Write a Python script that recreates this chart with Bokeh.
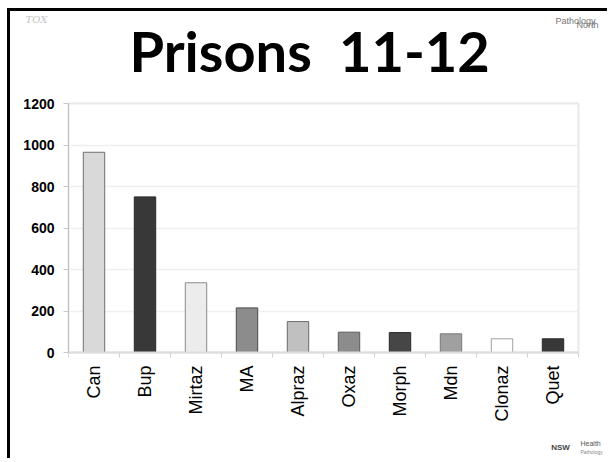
import math
from bokeh.plotting import figure
from bokeh.models import Range1d, FixedTicker, Label, ColumnDataSource
from bokeh.embed import file_html
from bokeh.resources import INLINE

# ---- data ----
categories = ["Can", "Bup", "Mirtaz", "MA", "Alpraz", "Oxaz", "Morph", "Mdn", "Clonaz", "Quet"]
counts = [965, 750, 336, 215, 149, 98, 96, 90, 66, 66]
fill_colors = ["#d9d9d9", "#383838", "#ececec", "#8c8c8c", "#c0c0c0",
               "#8c8c8c", "#464646", "#a0a0a0", "#ffffff", "#383838"]
line_colors = ["#6e6e6e", "#2a2a2a", "#8a8a8a", "#4a4a4a", "#6a6a6a",
               "#5a5a5a", "#2a2a2a", "#7a7a7a", "#a0a0a0", "#2a2a2a"]
y_ticks = [0, 200, 400, 600, 800, 1000, 1200]
title_text = "Prisons\u00a0\u00a011-12"

n = len(categories)
positions = [i + 0.5 for i in range(n)]
boundaries = list(range(n + 1))

source = ColumnDataSource(dict(x=positions, top=counts, fill=fill_colors,
                               line=line_colors, cat=categories))

p = figure(width=600, height=450, x_range=Range1d(0, n), y_range=Range1d(0, 1200),
           output_backend="svg", toolbar_location=None,
           min_border_left=58, min_border_right=32, min_border_top=92, min_border_bottom=109)
p.styles = {"margin-left": "7px", "margin-top": "8px",
            "border-left": "3px solid black", "border-top": "3px solid black"}
p.title.visible = False

p.vbar(x="x", top="top", width=0.42, source=source, fill_color="fill",
       line_color="line", line_width=1)

# x axis
xa = p.xaxis[0]
xa.ticker = FixedTicker(ticks=positions, minor_ticks=boundaries)
xa.major_label_overrides = {pos: c for pos, c in zip(positions, categories)}
xa.major_label_orientation = math.pi / 2
xa.major_tick_out = 0
xa.major_tick_in = 0
xa.minor_tick_out = 5
xa.minor_tick_in = 0
xa.minor_tick_line_color = "#d4d4d4"
xa.axis_line_color = "#dcdcdc"
xa.axis_line_width = 2
xa.major_label_standoff = 8
xa.major_label_text_font = "Liberation Sans"
xa.major_label_text_font_size = "18px"
xa.major_label_text_color = "#000000"

# y axis
ya = p.yaxis[0]
ya.ticker = FixedTicker(ticks=y_ticks)
ya.major_tick_out = 5
ya.major_tick_in = 0
ya.minor_tick_line_color = None
ya.major_tick_line_color = "#c8c8c8"
ya.axis_line_color = "#c0c0c0"
ya.major_label_standoff = 9
ya.major_label_text_font = "Liberation Sans"
ya.major_label_text_font_style = "bold"
ya.major_label_text_font_size = "14px"
ya.major_label_text_color = "#000000"

p.xgrid.visible = False
p.ygrid.ticker = FixedTicker(ticks=y_ticks)
p.ygrid.grid_line_color = "#efefef"
p.ygrid.grid_line_width = 1.5
p.outline_line_color = "#e8e8e8"
p.outline_line_width = 2

# texts placed in side panels (screen units, relative to each panel)
def add_label(side, x, y, text, size, color, align, font="Liberation Sans", style="normal"):
    p.add_layout(Label(x=x, y=y, x_units="screen", y_units="screen", text=text,
                       text_font=font, text_font_style=style,
                       text_font_size=size, text_align=align, text_baseline="alphabetic",
                       text_color=color), side)

add_label("above", 61, 53, title_text, "56px", "#000000", "left", font="Lato", style="bold")
add_label("above", -32, 17, "TOX", "10px", "#c4c4c4", "center", font="DejaVu Serif", style="italic")
add_label("above", 527, 5, "Pathology", "9px", "#777777", "right")
add_label("right", 20, 328, "North", "9px", "#777777", "right")
add_label("below", 492, -14, "NSW", "8px", "#444444", "center", style="bold")
add_label("below", 512, -3, "Health", "7px", "#555555", "left")
add_label("below", 512, -5, "Pathology", "5px", "#888888", "left")

open("out.html", "w").write(file_html(p, INLINE))
